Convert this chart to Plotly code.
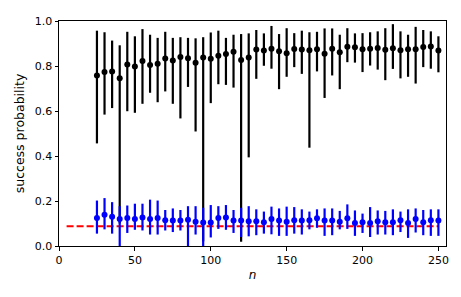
import plotly.graph_objects as go

n = list(range(25, 251, 5))

# black series: point, upper end, lower end of the bar
black_p = [0.758, 0.773, 0.776, 0.746, 0.807, 0.798, 0.822, 0.804, 0.810, 0.833,
           0.825, 0.840, 0.834, 0.815, 0.838, 0.832, 0.846, 0.853, 0.863, 0.827,
           0.838, 0.873, 0.869, 0.877, 0.866, 0.857, 0.876, 0.873, 0.870, 0.874,
           0.855, 0.877, 0.861, 0.886, 0.883, 0.874, 0.877, 0.880, 0.872, 0.879,
           0.870, 0.874, 0.874, 0.884, 0.887, 0.869]
black_hi = [0.957, 0.950, 0.913, 0.892, 0.952, 0.932, 0.964, 0.939, 0.925, 0.952,
            0.925, 0.928, 0.925, 0.923, 0.928, 0.949, 0.957, 0.925, 0.939, 0.942,
            0.945, 0.960, 0.945, 0.978, 0.942, 0.968, 0.946, 0.957, 0.950, 0.952,
            0.967, 0.967, 0.939, 0.968, 0.945, 0.946, 0.950, 0.954, 0.968, 0.986,
            0.954, 0.939, 0.974, 0.960, 0.954, 0.932]
black_lo = [0.456, 0.584, 0.613, 0.100, 0.599, 0.592, 0.632, 0.681, 0.639, 0.687,
            0.632, 0.567, 0.707, 0.509, 0.020, 0.635, 0.719, 0.716, 0.704, 0.019,
            0.394, 0.743, 0.801, 0.788, 0.697, 0.752, 0.795, 0.765, 0.437, 0.776,
            0.658, 0.758, 0.697, 0.817, 0.815, 0.773, 0.802, 0.784, 0.737, 0.787,
            0.745, 0.752, 0.722, 0.795, 0.788, 0.772]

# blue series
blue_p = [0.124, 0.139, 0.130, 0.120, 0.124, 0.120, 0.127, 0.120, 0.124, 0.115,
          0.113, 0.113, 0.117, 0.108, 0.104, 0.105, 0.124, 0.127, 0.113, 0.113,
          0.110, 0.110, 0.106, 0.120, 0.113, 0.108, 0.115, 0.113, 0.115, 0.123,
          0.113, 0.113, 0.108, 0.123, 0.102, 0.106, 0.102, 0.110, 0.106, 0.106,
          0.115, 0.102, 0.120, 0.106, 0.115, 0.113]
blue_hi = [0.202, 0.213, 0.195, 0.177, 0.180, 0.188, 0.188, 0.206, 0.202, 0.160,
           0.167, 0.160, 0.177, 0.177, 0.170, 0.182, 0.177, 0.182, 0.160, 0.170,
           0.177, 0.163, 0.153, 0.175, 0.167, 0.175, 0.173, 0.163, 0.153, 0.163,
           0.167, 0.167, 0.156, 0.185, 0.158, 0.144, 0.173, 0.158, 0.156, 0.163,
           0.153, 0.163, 0.167, 0.160, 0.163, 0.163]
blue_lo = [0.055, 0.074, 0.055, 0.000, 0.058, 0.072, 0.069, 0.051, 0.051, 0.069,
           0.062, 0.069, 0.000, 0.051, 0.000, 0.038, 0.076, 0.072, 0.058, 0.040,
           0.043, 0.048, 0.055, 0.052, 0.045, 0.045, 0.055, 0.051, 0.074, 0.081,
           0.045, 0.048, 0.074, 0.076, 0.045, 0.058, 0.040, 0.051, 0.051, 0.048,
           0.062, 0.036, 0.060, 0.048, 0.045, 0.045]

baseline_x = [5, 250]
baseline_y = [0.088, 0.088]


def bars(p, hi, lo, color):
    return dict(type="data", symmetric=False,
                array=[h - v for h, v in zip(hi, p)],
                arrayminus=[v - l for v, l in zip(p, lo)],
                color=color, thickness=2.2, width=0)


fig = go.Figure()
fig.add_trace(go.Scatter(x=baseline_x, y=baseline_y, mode="lines",
                         line=dict(color="red", width=2, dash="7px,3px")))
fig.add_trace(go.Scatter(x=n, y=black_p, mode="markers",
                         marker=dict(color="black", size=6),
                         error_y=bars(black_p, black_hi, black_lo, "black")))
fig.add_trace(go.Scatter(x=n, y=blue_p, mode="markers",
                         marker=dict(color="blue", size=6),
                         error_y=bars(blue_p, blue_hi, blue_lo, "blue")))

axis_style = dict(showline=True, linecolor="black", linewidth=1, mirror=True,
                  ticks="outside", ticklen=3.5, tickwidth=1, tickcolor="black",
                  showgrid=False, zeroline=False,
                  tickfont=dict(family="DejaVu Sans", size=11, color="black"))

fig.update_xaxes(range=[0, 255], tickvals=[0, 50, 100, 150, 200, 250],
                 title=dict(text="<i>n</i>", standoff=4,
                            font=dict(family="DejaVu Sans", size=12, color="black")),
                 **axis_style)
fig.update_yaxes(range=[0, 1], tickvals=[0, 0.2, 0.4, 0.6, 0.8, 1.0], tickformat=".1f",
                 title=dict(text="success probability", standoff=7,
                            font=dict(family="DejaVu Sans", size=12.5, color="black")),
                 **axis_style)

# the page body adds an 8px offset, so the figure is shrunk to fit the window
fig.update_layout(width=453, height=289, showlegend=False,
                  margin=dict(l=51, r=15, t=7, b=51),
                  plot_bgcolor="white", paper_bgcolor="white")

fig.write_html("out.html")
